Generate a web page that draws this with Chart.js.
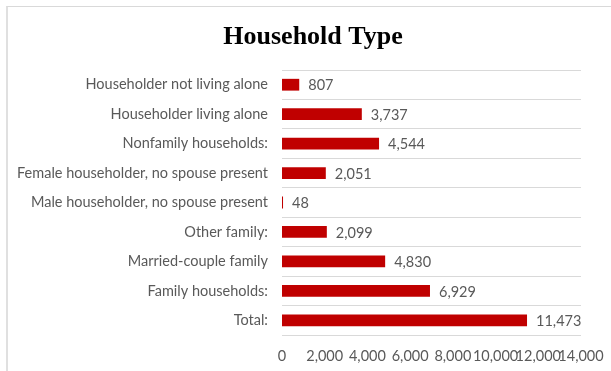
<!DOCTYPE html>
<html>
<head>
  <meta charset="utf-8">
  <title>Household Type</title>
  <script src="https://cdn.jsdelivr.net/npm/chart.js"></script>
  <style>
    html, body { margin: 0; padding: 0; background: #fff; }
    #wrap { position: relative; width: 611px; height: 371px; overflow: hidden; }
    #frame { position: absolute; left: 6px; top: 6px; width: 700px; height: 500px;
             border-top: 1px solid #d9d9d9; border-left: 2px solid #e0e0e0; }
    canvas { position: absolute; left: 0; top: 0; }
  </style>
</head>
<body>
  <div id="wrap">
    <div id="frame"></div>
    <canvas id="chart" width="611" height="371"></canvas>
  </div>

  <script>
    const categories = [
      'Householder not living alone',
      'Householder living alone',
      'Nonfamily households:',
      'Female householder, no spouse present',
      'Male householder, no spouse present',
      'Other family:',
      'Married-couple family',
      'Family households:',
      'Total:'
    ];
    const counts = [807, 3737, 4544, 2051, 48, 2099, 4830, 6929, 11473];
    const xTicks = [0, 2000, 4000, 6000, 8000, 10000, 12000, 14000];
    const chartTitle = 'Household Type';

    const labelFont = 'Lato, "Liberation Sans", sans-serif';
    const labelSize = 14.5;

    // title drawn centred over the whole frame, not just the plot
    const frameTitle = {
      id: 'frameTitle',
      afterDraw(chart) {
        const ctx = chart.ctx;
        ctx.save();
        ctx.font = 'bold 26px "Liberation Serif", "Times New Roman", serif';
        ctx.fillStyle = '#000';
        ctx.textAlign = 'center';
        ctx.textBaseline = 'middle';
        ctx.fillText(chartTitle, 313, 37);
        ctx.restore();
      }
    };

    // value labels to the right of each bar
    const barValues = {
      id: 'barValues',
      afterDatasetsDraw(chart) {
        const ctx = chart.ctx;
        const meta = chart.getDatasetMeta(0);
        ctx.save();
        ctx.font = labelSize + 'px ' + labelFont;
        ctx.fillStyle = '#595959';
        ctx.textAlign = 'left';
        ctx.textBaseline = 'middle';
        meta.data.forEach((bar, i) => {
          ctx.fillText(counts[i].toLocaleString('en-US'), bar.x + 9, bar.y + 1);
        });
        ctx.restore();
      }
    };

    new Chart(document.getElementById('chart'), {
      type: 'bar',
      data: {
        labels: categories,
        datasets: [{
          data: counts,
          backgroundColor: '#c00000',
          categoryPercentage: 0.4,
          barPercentage: 1
        }]
      },
      plugins: [barValues, frameTitle],
      options: {
        indexAxis: 'y',
        responsive: false,
        animation: false,
        layout: { padding: { left: 0, right: 30, top: 70, bottom: 0 } },
        plugins: {
          legend: { display: false },
          tooltip: { enabled: false },
          title: { display: false }
        },
        scales: {
          x: {
            min: 0,
            max: 14000,
            afterBuildTicks(scale) {
              scale.ticks = xTicks.map(v => ({ value: v }));
            },
            afterFit(scale) { scale.height = 36; },
            grid: { display: false },
            border: { display: false },
            ticks: {
              autoSkip: false,
              maxRotation: 0,
              padding: 5,
              color: '#595959',
              font: { family: labelFont, size: labelSize },
              callback: v => v.toLocaleString('en-US')
            }
          },
          y: {
            afterFit(scale) { scale.width = 282; },
            grid: { color: '#d9d9d9', lineWidth: 1, drawTicks: false },
            border: { display: false },
            ticks: {
              padding: 14,
              color: '#595959',
              font: { family: labelFont, size: labelSize }
            }
          }
        }
      }
    });
  </script>
</body>
</html>
